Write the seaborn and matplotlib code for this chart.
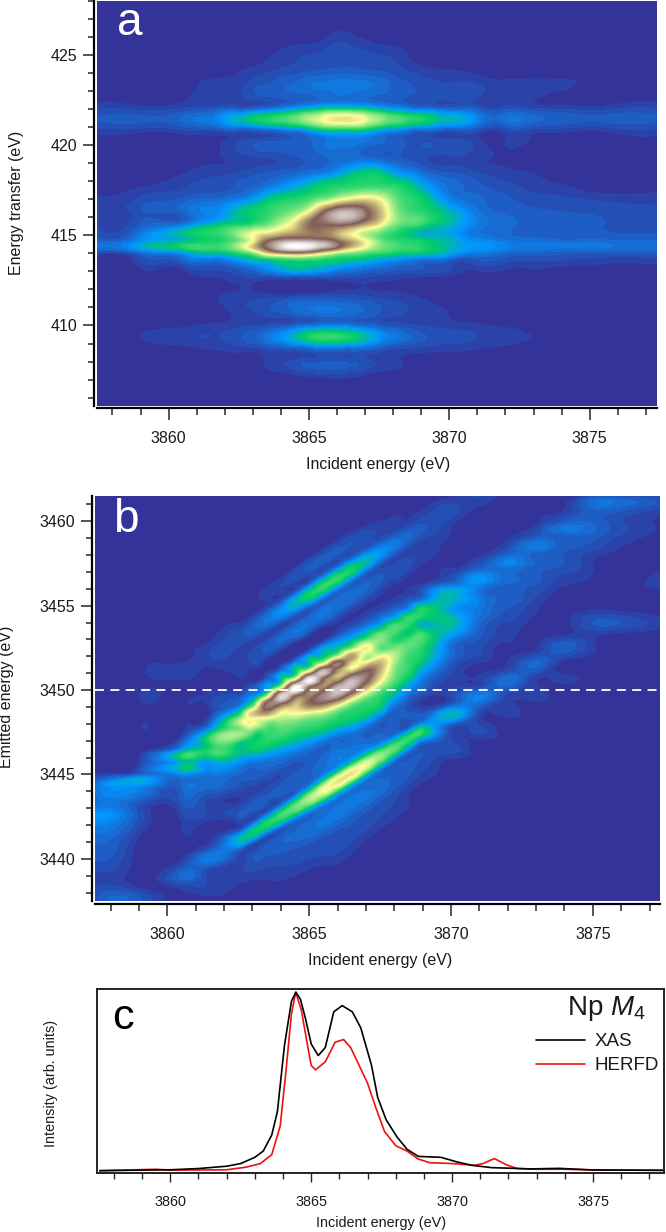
"""
Np M4 RIXS planes (a, b) and XAS / HERFD spectra (c)
"""

import matplotlib
matplotlib.use('Agg')
import matplotlib.pyplot as plt
import matplotlib.tri as mtri
from matplotlib.ticker import MultipleLocator
import seaborn as sns
import pandas as pd
import numpy as np

sns.set_style("ticks")
plt.rcParams['font.family'] = ['Liberation Sans', 'DejaVu Sans']
plt.rcParams['mathtext.fontset'] = 'custom'
plt.rcParams['mathtext.it'] = 'Liberation Sans:italic'
plt.rcParams['mathtext.rm'] = 'Liberation Sans'

# grid of the RIXS plane
incident = [3857, 3859, 3860.5, 3861.5, 3862.5, 3863, 3863.5, 3864, 3864.5, 3865,
            3865.5, 3866, 3866.5, 3867, 3867.5, 3868, 3868.5, 3869, 3870, 3871,
            3872, 3873, 3874, 3875.5, 3878]
transfer = [428, 426, 425, 424, 423.2, 422.5, 422, 421.4, 420.9, 420.3, 419.3,
            418.4, 417.8, 417, 416.3, 415.6, 415, 414.7, 414.4, 414.1, 413.7,
            413.3, 412.7, 411.5, 410.5, 410, 409.4, 408.8, 408, 407.2, 405.5]

# intensity in percent, one row per transfer value, top to bottom
plane = [
    [0, 0, 0, 0, 0,  0, 0, 0, 0, 0,  0, 0, 0, 0, 0,  0, 0, 0, 0, 0,  0, 0, 0, 0, 0],
    [0, 0, 0, 0, 0,  0, 0, 0, 0, 0,  1, 2.5, 2, 1, 0,  0, 0, 0, 0, 0,  0, 0, 0, 0, 0],
    [0, 0, 0, 0, 0,  0, 1, 2, 3, 3.5,  4, 4.5, 4.5, 4, 3.5,  3, 1.5, 0, 0, 0,  0, 0, 0, 0, 0],
    [0, 0, 0, 0, 1.5,  2.5, 3.5, 4.5, 5, 6,  6.5, 7, 7, 6.5, 6,  5, 4, 3, 2, 1,  0, 0, 0, 0, 0],
    [0, 0, 0, 3, 3,  5, 6, 7, 8, 9,  10, 10.5, 10.5, 10, 9,  7, 6, 5, 4, 4,  3, 3, 2, 0, 0],
    [0, 0, 1, 2.5, 3,  3.5, 4, 5, 6, 7,  8, 9, 9, 8, 7,  6, 5, 4.5, 3.5, 3,  2.5, 1.5, 0, 0, 0],
    [2.5, 3, 4, 5, 6.5,  8, 10, 13, 17, 21,  25, 26, 26, 24, 20,  16, 13, 11, 8, 6,  5, 4, 3.5, 3, 2.5],
    [5, 6, 8, 11, 20,  25, 28, 31, 35, 42,  49, 54, 54, 48, 40,  34, 30, 28, 20, 12,  9, 8, 7, 6, 5],
    [2, 3, 4, 5, 7,  8, 10, 12, 15, 20,  26, 28, 28, 26, 20,  16, 13, 10, 7, 5,  4, 3.5, 3, 2.5, 2],
    [0, 0, 0, 1, 3,  4, 4.5, 5, 6, 7,  9, 11, 11, 10, 8,  6.5, 5, 4.5, 3.5, 2,  1.5, 1, 0, 0, 0],
    [0, 0, 0, 1, 2.5,  3, 3.5, 4, 5, 6,  7, 8, 8, 8, 7,  6, 5, 4, 3, 2,  1, 0, 0, 0, 0],
    [0, 0, 1.5, 3, 4,  5, 6, 7, 8, 10,  12, 16, 22, 25, 25,  18, 14, 10, 6, 4,  2.5, 1.5, 0, 0, 0],
    [0, 1, 3, 4, 6,  7, 9, 12, 16, 20,  25, 27, 28, 29, 29,  28, 24, 17, 9, 6,  4, 2.5, 1.5, 0, 0],
    [3.5, 4, 6, 8, 11,  15, 22, 26, 28, 31,  37, 45, 52, 55, 50,  37, 30, 26, 12, 8,  6, 4.5, 4, 3, 2.5],
    [4, 5, 7.5, 12, 22,  26, 29, 33, 38, 50,  72, 86, 88, 78, 62,  42, 32, 29, 20, 10,  7, 6, 5.5, 5, 4],
    [5, 6, 10, 20, 27,  30, 35, 44, 55, 72,  75, 76, 72, 62, 52,  38, 32, 29, 20, 11,  8, 7, 6, 5.5, 5],
    [8, 11, 22, 28, 40,  50, 58, 64, 68, 70,  70, 62, 52, 42, 34,  28, 24, 19, 17, 10,  8, 7, 6, 6, 5],
    [10, 13, 20, 27, 36,  50, 72, 82, 85, 84,  80, 72, 62, 50, 37,  30, 28, 26, 20, 13,  10, 9, 8, 8, 7],
    [13, 18, 28, 30, 42,  58, 78, 93, 100, 98,  90, 78, 62, 50, 38,  33, 30, 28, 20, 15,  12, 11, 10, 10, 9],
    [7, 10, 18, 24, 32,  42, 62, 74, 78, 74,  62, 50, 42, 36, 32,  29, 27, 26, 19, 12,  9, 8, 7, 7, 6],
    [3, 4, 8, 11, 17,  22, 26, 30, 32, 31,  29, 26, 24, 22, 18,  16, 13, 11, 8, 6,  5, 4, 4, 3, 3],
    [1.5, 2, 3, 5, 8,  11, 15, 20, 23, 22,  20, 17, 14, 12, 10,  8, 7, 6, 4, 3,  2.5, 2, 1.5, 1, 1],
    [0, 0, 0, 1.5, 3,  3.5, 4, 5, 5.5, 5.5,  5, 4.5, 4, 3.5, 3,  2.5, 2, 1.5, 1, 0,  0, 0, 0, 0, 0],
    [0, 0, 0, 1, 2.5,  3, 3.5, 4, 5, 5.5,  5.5, 5.5, 5, 4.5, 3.5,  3, 2.5, 1.5, 0, 0,  0, 0, 0, 0, 0],
    [0, 0, 0, 0, 2,  2.5, 3.5, 4, 5, 6,  7.5, 7.5, 7, 6, 4.5,  3.5, 3, 2.5, 1.5, 0,  0, 0, 0, 0, 0],
    [0, 0, 1, 2, 3,  3.5, 4, 5, 7, 9,  11, 11, 10, 8, 6,  5, 4, 3.5, 2.5, 2,  1, 0, 0, 0, 0],
    [0, 1.5, 3, 3.5, 5,  7, 10, 14, 20, 27,  30, 30, 27, 21, 15,  11, 8, 6, 4.5, 3.5,  3, 1.5, 0, 0, 0],
    [0, 0, 1, 2, 3,  3.5, 5, 6, 8, 10,  12, 12, 11, 9, 7,  5, 4, 3.5, 2.5, 2,  1, 0, 0, 0, 0],
    [0, 0, 0, 0, 0,  0, 2, 3, 4, 5,  5.5, 5.5, 5, 4.5, 3,  2, 1, 0, 0, 0,  0, 0, 0, 0, 0],
    [0, 0, 0, 0, 0,  0, 0, 0, 1, 2,  2.5, 2.5, 2, 1, 0,  0, 0, 0, 0, 0,  0, 0, 0, 0, 0],
    [0, 0, 0, 0, 0,  0, 0, 0, 0, 0,  0, 0, 0, 0, 0,  0, 0, 0, 0, 0,  0, 0, 0, 0, 0],
]

# spectra of panel c
xas_energy = [3857.5, 3860, 3861, 3862, 3862.5, 3863, 3863.3, 3863.6, 3863.8, 3864.05, 3864.3,
              3864.46, 3864.62, 3864.8, 3865, 3865.25, 3865.5, 3865.8, 3866.1, 3866.46, 3866.76,
              3867.14, 3867.36, 3867.66, 3868.04, 3868.4, 3868.8, 3869.6, 3870.15, 3870.7,
              3871.4, 3872.8, 3873.8, 3875, 3877.5]
xas_signal = [0.0, 0.005, 0.012, 0.025, 0.04, 0.075, 0.11, 0.2, 0.33, 0.7, 0.95,
              1.0, 0.96, 0.85, 0.71, 0.645, 0.69, 0.89, 0.925, 0.89, 0.8,
              0.59, 0.41, 0.285, 0.19, 0.12, 0.08, 0.075, 0.05, 0.03,
              0.017, 0.01, 0.013, 0.004, 0.002]
herfd_energy = [3857.5, 3859.5, 3860, 3862, 3862.7, 3863.2, 3863.6, 3863.9, 3864.1, 3864.3, 3864.45,
                3864.65, 3864.85, 3865, 3865.15, 3865.5, 3865.85, 3866.15, 3866.4, 3866.7, 3867,
                3867.3, 3867.6, 3868, 3868.4, 3868.8, 3869.2, 3870, 3870.8, 3871.1, 3871.5,
                3871.9, 3872.3, 3873, 3874, 3875, 3877.5]
herfd_signal = [0.0, 0.008, 0.003, 0.005, 0.02, 0.04, 0.09, 0.25, 0.55, 0.88, 1.0,
                0.9, 0.72, 0.59, 0.565, 0.61, 0.72, 0.735, 0.69, 0.59, 0.49,
                0.35, 0.22, 0.14, 0.11, 0.065, 0.045, 0.04, 0.03, 0.04, 0.068,
                0.035, 0.012, 0.008, 0.008, 0.004, 0.002]

x_ticks = [3860, 3865, 3870, 3875]
W, H = 666, 1232
TEXT = '#1a1a1a'

fig = plt.figure(figsize=(W / 100, H / 100), dpi=100)


def add_axes_px(left, top, right, bottom):
    return fig.add_axes([left / W, 1 - bottom / H, (right - left) / W, (bottom - top) / H])


def fig_text(x, y, s, **kw):
    fig.text(x / W, 1 - y / H, s, ha='center', va='center', color=TEXT, **kw)


def draw_plane(ax, xs, ys, z):
    cmap = sns.color_palette("terrain", as_cmap=True)
    levels = np.concatenate([[0.015, 0.035, 0.055, 0.075, 0.095, 0.115, 0.135], np.arange(0.15, 1.005, 0.01)])
    tri = mtri.Triangulation(xs.ravel(), ys.ravel())
    refiner = mtri.UniformTriRefiner(tri)
    tri_f, z_f = refiner.refine_field(z.ravel(), subdiv=3)
    ax.set_facecolor(cmap(0.0))
    ax.tricontourf(tri_f, z_f, levels=levels, cmap=cmap, vmin=0, vmax=1, extend='both')


def style_map_axes(ax, y_major, gap):
    for side in ['top', 'right']:
        ax.spines[side].set_visible(False)
    for side in ['left', 'bottom']:
        ax.spines[side].set_position(('outward', gap))
        ax.spines[side].set_linewidth(1.6)
        ax.spines[side].set_color('black')
    ax.set_xticks(x_ticks)
    ax.xaxis.set_minor_locator(MultipleLocator(1))
    ax.yaxis.set_major_locator(MultipleLocator(y_major))
    ax.yaxis.set_minor_locator(MultipleLocator(1))
    ax.tick_params(axis='x', which='major', length=8.5, width=1.1, labelsize=11.5, pad=8, labelcolor=TEXT)
    ax.tick_params(axis='x', which='minor', length=5, width=1.1)
    ax.tick_params(axis='y', which='major', length=8, width=1.1, labelsize=11.5, pad=4, labelcolor=TEXT)
    ax.tick_params(axis='y', which='minor', length=4.5, width=1.1)
    ax.ticklabel_format(useOffset=False, style='plain')


inc_grid, tr_grid = np.meshgrid(np.array(incident, float), np.array(transfer, float))
z_grid = np.array(plane, float) / 100.0

# Panel a
ax_a = add_axes_px(96.5, 1, 657, 405.7)
draw_plane(ax_a, inc_grid, tr_grid, z_grid)
ax_a.set_xlim(3857.43, 3877.4)
ax_a.set_ylim(405.55, 428)
style_map_axes(ax_a, 5, 1.6)
ax_a.text(0.037, 0.945, 'a', transform=ax_a.transAxes, color='white', fontsize=33, ha='left', va='center')
fig_text(378, 464, 'Incident energy (eV)', fontsize=11.5)
fig_text(17, 203, 'Energy transfer (eV)', fontsize=11.5, rotation=90)

# Panel b: same plane, emitted energy = incident - transfer
ax_b = add_axes_px(95, 496, 660, 901)
draw_plane(ax_b, inc_grid, inc_grid - tr_grid, z_grid)
ax_b.set_xlim(3857.45, 3877.37)
ax_b.set_ylim(3437.5, 3461.5)
style_map_axes(ax_b, 5, 2)
ax_b.axhline(3450, color='white', lw=1.3, ls=(0, (5, 3.5)))
ax_b.text(0.032, 0.94, 'b', transform=ax_b.transAxes, color='white', fontsize=33, ha='left', va='center')
fig_text(380, 960, 'Incident energy (eV)', fontsize=11.5)
fig_text(7, 697, 'Emitted energy (eV)', fontsize=11.5, rotation=90)

# Panel c
spectra = pd.concat([
    pd.DataFrame({'energy': xas_energy, 'signal': xas_signal, 'kind': 'XAS'}),
    pd.DataFrame({'energy': herfd_energy, 'signal': herfd_signal, 'kind': 'HERFD'}),
])
ax_c = add_axes_px(97, 989, 663.5, 1173)
sns.lineplot(data=spectra, x='energy', y='signal', hue='kind', sort=False,
             palette={'XAS': 'black', 'HERFD': '#ee1111'}, hue_order=['HERFD', 'XAS'],
             linewidth=1.2, legend=False, ax=ax_c)
ax_c.set_xlim(3857.4, 3877.5)
ax_c.set_ylim(-0.013, 1.018)
ax_c.set_xlabel('')
ax_c.set_ylabel('')
ax_c.set_yticks([])
ax_c.set_xticks(x_ticks)
ax_c.ticklabel_format(axis='x', useOffset=False, style='plain')
ax_c.xaxis.set_minor_locator(MultipleLocator(1))
ax_c.tick_params(axis='x', which='major', length=6.5, width=1.0, labelsize=10.4, pad=9, labelcolor=TEXT)
ax_c.tick_params(axis='x', which='minor', length=4.5, width=1.0)
for side in ax_c.spines:
    ax_c.spines[side].set_linewidth(1.4)
    ax_c.spines[side].set_color('#222222')
ax_c.text(0.026, 0.84, 'c', transform=ax_c.transAxes, color='black', fontsize=31, ha='left', va='center')

# legend drawn by hand-placed proxy handles
handles = [plt.Line2D([], [], color='black', lw=1.2), plt.Line2D([], [], color='#ee1111', lw=1.2)]
ax_c.legend(handles, ['XAS', 'HERFD'], loc='upper right', frameon=False, fontsize=13.5,
            bbox_to_anchor=(1.008, 0.81), handlelength=2.6, handletextpad=0.5, labelspacing=0.35,
            borderpad=0, labelcolor=TEXT)
ax_c.text(0.968, 0.895, r'Np $\mathit{M}_{\mathit{4}}$', transform=ax_c.transAxes, color=TEXT,
          fontsize=20, ha='right', va='center')
fig_text(381, 1223, 'Incident energy (eV)', fontsize=10.4)
fig_text(51, 1083, 'Intensity (arb. units)', fontsize=10.4, rotation=90)

plt.savefig('out.png', dpi=100)
